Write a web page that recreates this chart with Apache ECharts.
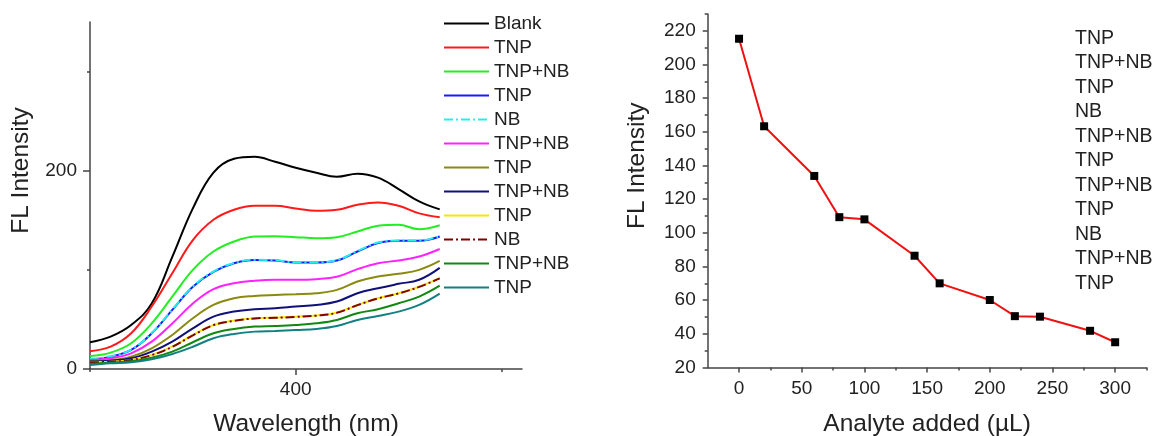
<!DOCTYPE html>
<html><head><meta charset="utf-8">
<script src="https://cdn.jsdelivr.net/npm/echarts@6/dist/echarts.min.js"></script>
<style>html,body{margin:0;padding:0;background:#fff}#c{width:1156px;height:436px}</style>
</head><body><div id="c"></div>
<script>
// ---- Left panel: fluorescence spectra ----
const wavelengths = [300,310,320,330,340,350,360,370,380,390,400,410,420,430,440,450,460,470];
const spectraLabels = ['Blank','TNP','TNP+NB','TNP','NB','TNP+NB','TNP','TNP+NB','TNP','NB','TNP+NB','TNP'];
const blank   = [27,32.7,44.4,66,113,162,198,212,214,209,203,198,194,197,193,181.5,169,161];
const tnp1    = [18,22.5,36,63,96.6,130,150.5,160.6,164.6,164.6,162,159.5,160.6,165.7,168,164.6,157,153];
const tnpnb1  = [13,16.5,26,46,73,100,118.5,128.6,133.6,134,133,132,133,138.7,144.5,145.5,141,145];
const tnp2    = [9.5,12.5,19.2,36,59.6,83,98,106.7,110,109.4,107.4,107.4,109.4,118.5,127,129.3,129.3,133.6];
const nb1     = [10,12.8,19.5,36.3,60,83.3,98.3,107,110.2,109.6,107.6,107.6,109.8,119,127.5,129.6,129.6,134];
const tnpnb2  = [9,10.8,15.8,27.6,46,66,80.5,86.5,89,90,90,90.6,93,100.7,106.7,109.4,113.4,121];
const tnp3    = [8,9.1,12.5,20.9,34.3,51.2,64.6,71.4,73.7,74.7,75.4,76.4,79.8,88.2,93.3,96,100,109];
const tnpnb3  = [7.5,8.4,10.8,17.5,27.6,41,52.8,57.9,60.3,61.3,63,64.6,68,76.4,81.5,85.9,90,102];
const tnp4    = [7,7.4,9.1,14.1,22.5,34.3,44.4,48.8,51.2,51.8,52.8,54,56.9,64.6,71.4,76.4,83,91.6];
const nb2     = [6.8,7.3,9,14,22.3,34,44.2,48.6,51,51.6,52.6,53.8,56.7,64.4,71.2,76.2,82.8,91.4];
const tnpnb4  = [5,6.4,7.8,11.4,17.5,27,36,40.4,42.8,43.4,44.4,46.1,49.5,56.2,60.3,66.3,73,84];
const tnp5    = [4,5.7,6.7,9.8,15.2,22.5,31,35.4,37.7,38.4,39.4,40.4,43.4,49.5,53.5,57.9,64.6,76];
const spectra = [blank,tnp1,tnpnb1,tnp2,nb1,tnpnb2,tnp3,tnpnb3,tnp4,nb2,tnpnb4,tnp5];
const spectraColors = ['#000000','#ff1a1a','#22ee22','#1a1aff','#22eeee','#ff22ff','#8a8a10','#10107a','#f5e600','#800000','#118811','#118080'];
const spectraDash = ['solid','solid','solid','solid','dashdot','solid','solid','solid','solid','dashdot','solid','solid'];
const leftYLabels = [0,200];
const leftYMinor = [100,300];
const leftXLabels = [400];
const leftXMinor = [300,500];

// ---- Right panel: intensity vs analyte added ----
const analyteAdded = [0,20,60,80,100,140,160,200,220,240,280,300];
const flIntensity  = [215.3,163.3,133.8,109.3,108,86.4,70,60.1,50.5,50.2,41.8,35];
const rightLabels = ['TNP','TNP+NB','TNP','NB','TNP+NB','TNP','TNP+NB','TNP','NB','TNP+NB','TNP'];
const rightXLabels = [0,50,100,150,200,250,300];
const rightXMinor = [25,75,125,175,225,275,325];
const rightYLabels = [20,40,60,80,100,120,140,160,180,200,220];
const rightYMinor = [30,50,70,90,110,130,150,170,190,210,230];

const FONT = 'Liberation Sans, Arial, sans-serif';
const TXT = '#222';
const AX = '#444';

function mainAxis(o){
  return Object.assign({
    type:'value', splitLine:{show:false},
    axisLine:{show:true, onZero:false, lineStyle:{color:AX, width:1.5}},
    axisTick:{show:true, inside:false, lineStyle:{color:AX, width:1.5}},
    axisLabel:{color:TXT, fontSize:19, fontFamily:FONT},
    nameLocation:'middle',
    nameTextStyle:{color:TXT, fontSize:24.5, fontFamily:FONT}
  }, o);
}
function minorAxis(o){
  return Object.assign({
    type:'value', splitLine:{show:false},
    axisLine:{show:false, onZero:false},
    axisLabel:{show:false}
  }, o);
}

const dashMap = {solid:'solid', dashdot:[9,3,2,3]};

const series = spectra.map((d,i)=>({
  name: i + '|' + spectraLabels[i],
  type:'line', xAxisIndex:0, yAxisIndex:0,
  data: wavelengths.map((w,j)=>[w,d[j]]),
  smooth:0.4, symbol:'none', showSymbol:false,
  lineStyle:{color:spectraColors[i], width:2, type:dashMap[spectraDash[i]]},
  itemStyle:{color:spectraColors[i]},
  z: 2 + i
}));
series.push({
  name:'FL', type:'line', xAxisIndex:2, yAxisIndex:2,
  data: analyteAdded.map((x,i)=>[x,flIntensity[i]]),
  symbol:'rect', symbolSize:8,
  lineStyle:{color:'#ee1111', width:2},
  itemStyle:{color:'#000'}, z:5
});

const option = {
  animation:false,
  backgroundColor:'#fff',
  grid:[
    {left:90, right:634, top:22, bottom:67, containLabel:false, outerBoundsMode:'none'},
    {left:707.7, right:9.5, top:14, bottom:68.5, containLabel:false, outerBoundsMode:'none'}
  ],
  xAxis:[
    mainAxis({gridIndex:0, min:300, max:510, position:'bottom',
      axisTick:{show:true, customValues:leftXLabels, length:6, lineStyle:{color:AX,width:1.5}},
      axisLabel:{customValues:leftXLabels, color:TXT, fontSize:19, fontFamily:FONT, margin:11.5},
      name:'Wavelength (nm)', nameGap:42.5}),
    minorAxis({gridIndex:0, min:300, max:510, position:'bottom',
      axisTick:{show:true, customValues:leftXMinor, length:3, lineStyle:{color:AX,width:1.5}}}),
    mainAxis({gridIndex:1, min:-25, max:325, position:'bottom',
      axisTick:{show:true, customValues:rightXLabels, length:5, lineStyle:{color:AX,width:1.5}},
      axisLabel:{customValues:rightXLabels, color:TXT, fontSize:19, fontFamily:FONT, margin:12},
      name:'Analyte added (µL)', nameGap:44}),
    minorAxis({gridIndex:1, min:-25, max:325, position:'bottom',
      axisTick:{show:true, customValues:rightXMinor, length:3, lineStyle:{color:AX,width:1.5}}})
  ],
  yAxis:[
    mainAxis({gridIndex:0, min:0, max:350, position:'left',
      axisTick:{show:true, customValues:leftYLabels, length:7, lineStyle:{color:AX,width:1.5}},
      axisLabel:{customValues:leftYLabels, color:TXT, fontSize:19, fontFamily:FONT, margin:13},
      name:'FL Intensity', nameGap:56,
      nameTextStyle:{color:TXT, fontSize:24.5, fontFamily:FONT, padding:[0,0,0,50]}}),
    minorAxis({gridIndex:0, min:0, max:350, position:'left',
      axisTick:{show:true, customValues:leftYMinor, length:3, lineStyle:{color:AX,width:1.5}}}),
    mainAxis({gridIndex:1, min:20, max:230, position:'left',
      axisTick:{show:true, customValues:rightYLabels, length:5, lineStyle:{color:AX,width:1.5}},
      axisLabel:{customValues:rightYLabels, color:TXT, fontSize:19, fontFamily:FONT, margin:12},
      name:'FL Intensity', nameGap:58,
      nameTextStyle:{color:TXT, fontSize:24.5, fontFamily:FONT, padding:[0,0,0,50]}}),
    minorAxis({gridIndex:1, min:20, max:230, position:'left',
      axisTick:{show:true, customValues:rightYMinor, length:3, lineStyle:{color:AX,width:1.5}}})
  ],
  legend:{
    data: spectraLabels.map((l,i)=> i + '|' + l),
    orient:'vertical', left:443, top:14, padding:0,
    itemWidth:45, itemHeight:14, itemGap:5,
    selectedMode:false,
    itemStyle:{opacity:0},
    formatter: n => n.split('|')[1],
    textStyle:{color:TXT, fontSize:19, fontFamily:FONT, lineHeight:19}
  },
  graphic:[{
    type:'text', left:1075, top:26,
    style:{text: rightLabels.join('\n'), fill:TXT, font:'19.5px ' + FONT, lineHeight:24.5}
  }],
  series: series
};
const chart = echarts.init(document.getElementById('c'), null, {renderer:'canvas'});
chart.setOption(option);
</script>
</body></html>
